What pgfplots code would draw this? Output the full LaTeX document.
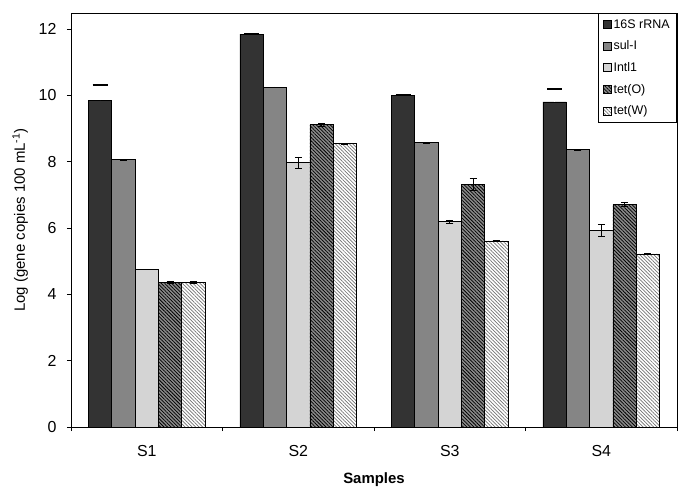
\documentclass[border=0pt]{standalone}
\usepackage{fontspec}
\setmainfont{Liberation Sans}
\usepackage{pgfplots}
\pgfplotsset{compat=1.18}
\usetikzlibrary{patterns.meta}
\definecolor{cA}{HTML}{333333}
\definecolor{cB}{HTML}{858585}
\definecolor{cC}{HTML}{D4D4D4}
\definecolor{cD}{HTML}{8A8A8A}
\begin{document}
\begin{tikzpicture}
\begin{axis}[
 scale only axis, width=606bp, height=414bp,
 xmin=-0.5, xmax=3.5, ymin=0, ymax=12.48,
 ytick={0,2,...,12},
 xtick={-0.5,0.5,1.5,2.5,3.5}, xticklabels={},
 extra x ticks={0,1,2,3}, extra x tick labels={S1,S2,S3,S4},
 extra x tick style={major tick length=0pt},
 tick align=outside, xtick pos=bottom, ytick pos=left,
 major tick length=4bp,
 tick style={black, line width=0.6pt},
 axis line style={line width=0.8pt},
 tick label style={font=\fontsize{16}{16}\selectfont, /pgf/number format/assume math mode=true},
 xticklabel shift=15bp, yticklabel shift=7bp,
 xlabel={\textbf{Samples}},
 ylabel={Log (gene copies 100 mL\textsuperscript{-1})},
 label style={font=\fontsize{15}{16}\selectfont},
 xlabel shift=-18bp, ylabel shift=4bp,
 legend style={at={(1,1)}, anchor=north east, draw=black, line width=0.8pt,
   font=\fontsize{12.5}{13}\selectfont, row sep=7.2bp, inner xsep=5bp, inner ysep=4bp,
   /tikz/every even column/.append style={column sep=1bp}},
 legend cell align=left,
 legend image code/.code={\draw[#1, line width=0.5pt] (0bp,-4bp) rectangle (8bp,4bp);},
]
\coordinate (O) at (rel axis cs:0,0);
% 16S rRNA
\addplot[ybar, bar shift=0pt, bar width=0.154, fill=cA, draw=black, line width=0.6pt,
  error bars/.cd, y dir=plus, y explicit,
  error bar style={white, line width=0.3pt},
  error mark options={black, rotate=90, mark size=7.5bp, line width=2pt}]
 coordinates {(-0.308,9.85) +- (0,0.46) (0.692,11.84) +- (0,0.0) (1.692,10.00) +- (0,0.0) (2.692,9.80) +- (0,0.39)};
\addlegendentry{16S rRNA}
% sul-I
\addplot[ybar, bar shift=0pt, bar width=0.154, fill=cB, draw=black, line width=0.6pt,
  error bars/.cd, y dir=both, y explicit,
  error bar style={black, line width=0.6pt},
  error mark options={black, rotate=90, mark size=3.5bp, line width=0.6pt}]
 coordinates {(-0.154,8.06) +- (0,0.01) (0.846,10.24) +- (0,0.01) (1.846,8.57) +- (0,0.02) (2.846,8.36) +- (0,0.02)};
\addlegendentry{sul-I}
% IntI1
\addplot[ybar, bar shift=0pt, bar width=0.154, fill=cC, draw=black, line width=0.6pt,
  error bars/.cd, y dir=both, y explicit,
  error bar style={black, line width=0.6pt},
  error mark options={black, rotate=90, mark size=3.5bp, line width=0.6pt}]
 coordinates {(0,4.74) +- (0,0.0) (1,7.97) +- (0,0.17) (2,6.19) +- (0,0.05) (3,5.92) +- (0,0.18)};
\addlegendentry{Intl1}
% tet(O)
\addplot[ybar, bar shift=0pt, bar width=0.154, fill=cD, draw=black, line width=0.6pt,
  postaction={pattern={Lines[angle=-45,distance=2.5pt,line width=0.75pt]}, pattern color=black},
  error bars/.cd, y dir=both, y explicit,
  error bar style={black, line width=0.6pt},
  error mark options={black, rotate=90, mark size=3.5bp, line width=0.6pt}]
 coordinates {(0.154,4.36) +- (0,0.03) (1.154,9.11) +- (0,0.05) (2.154,7.32) +- (0,0.17) (3.154,6.71) +- (0,0.05)};
\addlegendentry{tet(O)}
% tet(W)
\addplot[ybar, bar shift=0pt, bar width=0.154, fill=white, draw=black, line width=0.6pt,
  postaction={pattern={Lines[angle=-45,distance=2.5pt,line width=0.7pt]}, pattern color=black!55},
  error bars/.cd, y dir=both, y explicit,
  error bar style={black, line width=0.6pt},
  error mark options={black, rotate=90, mark size=3.5bp, line width=0.6pt}]
 coordinates {(0.308,4.36) +- (0,0.03) (1.308,8.54) +- (0,0.02) (2.308,5.61) +- (0,0.02) (3.308,5.22) +- (0,0.02)};
\addlegendentry{tet(W)}
\end{axis}
\path (O) ++(-71bp,-72bp) rectangle ++(691bp,499bp);
\end{tikzpicture}
\end{document}
